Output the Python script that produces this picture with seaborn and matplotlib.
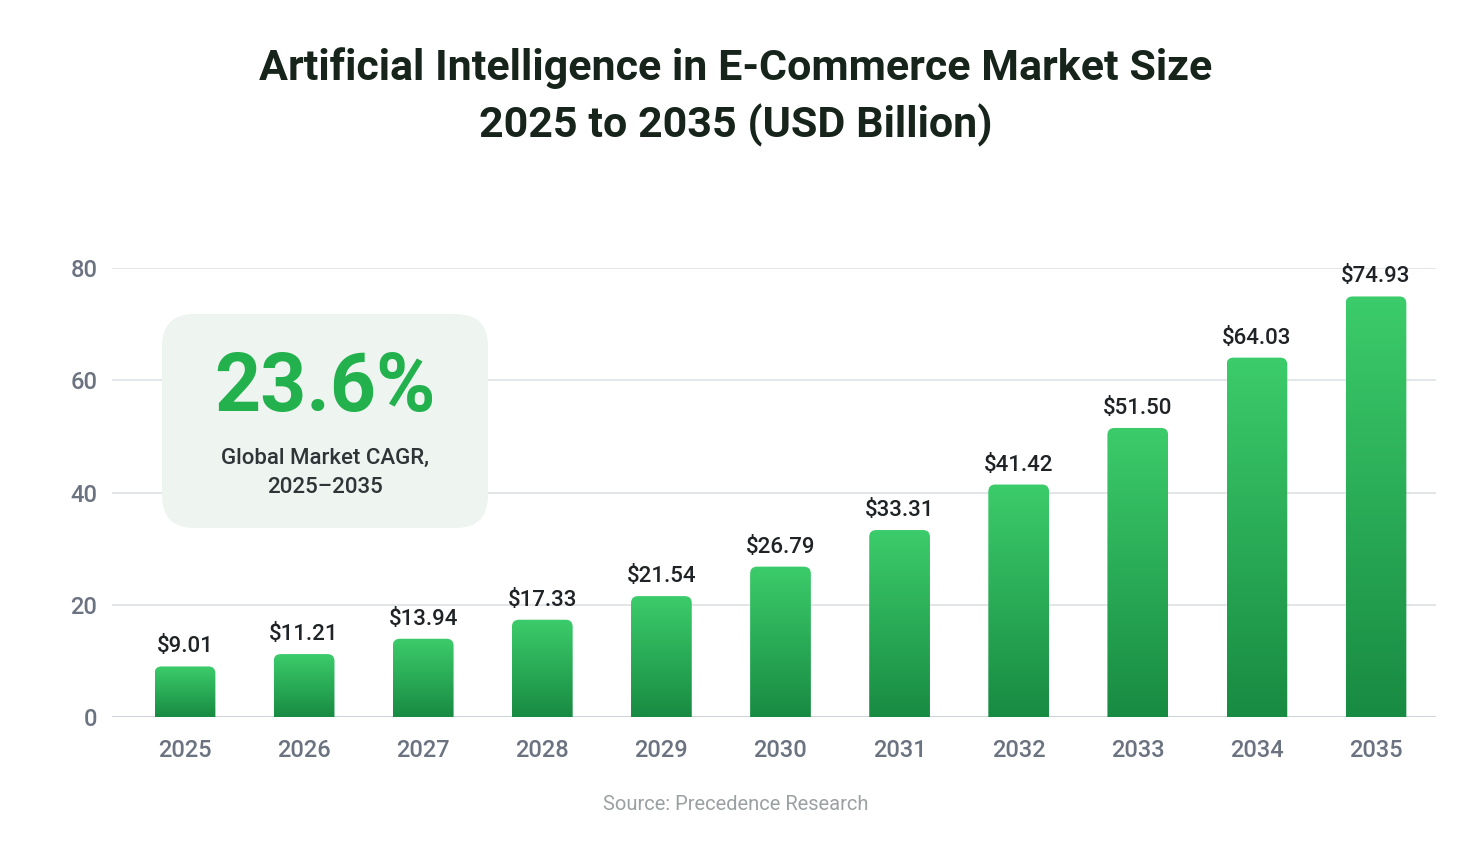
import numpy as np
import pandas as pd
import seaborn as sns
import matplotlib.pyplot as plt
from matplotlib.patches import FancyBboxPatch
from matplotlib.colors import LinearSegmentedColormap

years = ["2025", "2026", "2027", "2028", "2029", "2030", "2031", "2032", "2033", "2034", "2035"]
values = [9.01, 11.21, 13.94, 17.33, 21.54, 26.79, 33.31, 41.42, 51.50, 64.03, 74.93]
yticks = [0, 20, 40, 60, 80]
title = "Artificial Intelligence in E-Commerce Market Size\n2025 to 2035 (USD Billion)"
cagr = "23.6%"
cagr_sub = "Global Market CAGR,\n2025\u20132035"
source = "Source: Precedence Research"

sns.set_style("white")
plt.rcParams["font.family"] = ["Roboto", "DejaVu Sans"]

df = pd.DataFrame({"year": years, "value": values})

fig = plt.figure(figsize=(14.72, 8.43), dpi=100)
ax = fig.add_axes([112/1472, 1-717/843, (1436-112)/1472, (717-268)/843])
sns.barplot(data=df, x="year", y="value", ax=ax, width=0.51, color="#2fbf5e")

ax.set_ylim(0, 80)
ax.set_xlim(-0.613, 10.504)
ax.set_yticks(yticks)
ax.set_xlabel("")
ax.set_ylabel("")
for s in ax.spines.values():
    s.set_visible(False)
ax.grid(axis="y", color="#e3e6e9", lw=1.4)
ax.set_axisbelow(True)
ax.axhline(0, color="#cfd4d9", lw=2.2, zorder=1)
ax.tick_params(axis="both", length=0, labelsize=17, colors="#6b7280")
ax.tick_params(axis="y", pad=10.5)
ax.tick_params(axis="x", pad=16)
for t in ax.get_xticklabels() + ax.get_yticklabels():
    t.set_fontweight("medium")

# gradient fill, rounded top corners
cmap = LinearSegmentedColormap.from_list("g", ["#188b42", "#3ccc6b"])
grad = np.linspace(0, 1, 256).reshape(-1, 1)
xpx = 1323/(ax.get_xlim()[1]-ax.get_xlim()[0])
ypx = 449/80
for p in list(ax.patches):
    x0, w, h = p.get_x(), p.get_width(), p.get_height()
    p.set_visible(False)
    r = 7/xpx
    fb = FancyBboxPatch((x0, -3), w, h+3, boxstyle=f"round,pad=0,rounding_size={r}",
                        mutation_aspect=xpx/ypx, transform=ax.transData,
                        facecolor="none", edgecolor="none")
    ax.add_patch(fb)
    im = ax.imshow(grad, extent=(x0, x0+w, 0, h), origin="lower", cmap=cmap,
                   aspect="auto", zorder=2)
    im.set_clip_path(fb)
    ax.text(x0+w/2, h+1.6, f"${h:.2f}", ha="center", va="bottom", fontsize=16,
            color="#1f2326", fontweight="medium", clip_on=False)
ax.set_xlim(-0.613, 10.504)
ax.set_ylim(0, 80)

# CAGR box
bx = FancyBboxPatch((162/1472, 1-528/843), (488-162)/1472, (528-314)/843,
                    boxstyle="round,pad=0,rounding_size=0.022", mutation_aspect=1472/843,
                    transform=fig.transFigure, facecolor="#eef4f0", edgecolor="none", zorder=3)
fig.patches.append(bx)
fig.text(325/1472, 1-389/843, cagr, ha="center", va="center", fontsize=58, fontweight="bold",
         color="#22b14c", zorder=4)
fig.text(325/1472, 1-473/843, cagr_sub, ha="center", va="center", fontsize=16,
         color="#2f3437", linespacing=1.55, fontweight="medium", zorder=4)

fig.text(736/1472, 1-97/843, title, ha="center", va="center", fontsize=31, fontweight="bold",
         color="#16241b", linespacing=1.45)
fig.text(736/1472, 1-804/843, source, ha="center", va="center", fontsize=14.5, color="#9ba1a3")

fig.savefig("out.png", dpi=100, facecolor="white")
